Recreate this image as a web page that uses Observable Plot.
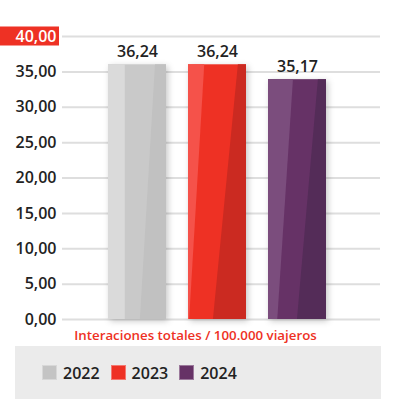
<!DOCTYPE html>
<html>
<head>
<meta charset="utf-8">
<script src="https://cdn.jsdelivr.net/npm/d3@7"></script>
<script src="https://cdn.jsdelivr.net/npm/@observablehq/plot@0.6"></script>
<style>
  body { margin: 0; background: #fff; font-family: "Open Sans", sans-serif; }
  #chart svg g[aria-label="rect"] { filter: drop-shadow(2px 2px 3px rgba(0,0,0,0.22)); }
  .legend { margin-left: 15px; width: 366px; height: 53px; background: #ebebeb; display: flex; align-items: center; padding-left: 27px; box-sizing: border-box; }
  .legend .item { display: flex; align-items: center; margin-right: 11px; }
  .legend .sw { width: 15px; height: 15px; box-sizing: border-box; border: 1px solid rgba(255,255,255,0.35); }
  .legend .lab { margin-left: 6px; font-size: 16px; font-weight: 600; color: #222; }
</style>
</head>
<body>
<div id="chart"></div>
<div class="legend" id="legend"></div>
<script>
// ---- data ----
const years = ["2022", "2023", "2024"];
const valueLabels = [36.24, 36.24, 35.17];      // values printed above the bars
const barHeights = [36.0, 36.0, 33.9];          // bar heights as drawn in the picture
const yTicks = [0, 5, 10, 15, 20, 25, 30, 35, 40];
const xLabel = "Interaciones totales / 100.000 viajeros";

// ---- style ----
const shades = [
  {light: "#dadada", mid: "#c9c9c9", dark: "#c1c1c1", swatch: "#c4c4c4"},
  {light: "#f5524a", mid: "#ee3124", dark: "#cb2a21", swatch: "#ee3124"},
  {light: "#7b4d7d", mid: "#663266", dark: "#542c58", swatch: "#663266"}
];
// fractions of bar width: light strip edge (top, bottom), dark strip edge (top, bottom)
const facets = [
  {lt: 0.29, lb: 0.29, dt: 0.81, db: 0.55},
  {lt: 0.28, lb: 0.02, dt: 0.86, db: 0.43},
  {lt: 0.43, lb: 0.16, dt: 0.86, db: 0.50}
];
const hw = 0.3625;
const fmt = v => v.toFixed(2).replace(".", ",");

const data = years.map((year, i) => ({year, i, h: barHeights[i], label: valueLabels[i]}));
const lightPts = data.flatMap(d => {
  const l = d.i - hw, w = 2 * hw, f = facets[d.i];
  return [
    {year: d.year, i: d.i, y: 0, x1: l, x2: l + w * f.lb},
    {year: d.year, i: d.i, y: d.h, x1: l, x2: l + w * f.lt}
  ];
});
const darkPts = data.flatMap(d => {
  const l = d.i - hw, w = 2 * hw, f = facets[d.i];
  return [
    {year: d.year, i: d.i, y: 0, x1: l + w * f.db, x2: d.i + hw},
    {year: d.year, i: d.i, y: d.h, x1: l + w * f.dt, x2: d.i + hw}
  ];
});

const chart = Plot.plot({
  width: 399,
  height: 346,
  marginLeft: 62,
  marginRight: 19,
  marginTop: 36,
  marginBottom: 27,
  style: {fontFamily: "'Open Sans', sans-serif", background: "transparent"},
  x: {type: "linear", domain: [-0.9375, 3.0375], axis: null},
  y: {domain: [0, 40], axis: null},
  marks: [
    Plot.gridY(yTicks, {stroke: "#dedede", strokeOpacity: 1, strokeWidth: 2}),
    Plot.axisY(yTicks, {tickSize: 0, tickPadding: 6, tickFormat: fmt, fontSize: 16, fontWeight: 600, fill: "#222", label: null}),
    Plot.rectY(data, {x1: d => d.i - hw, x2: d => d.i + hw, y1: 0, y2: "h", fill: d => shades[d.i].mid}),
    Plot.areaX(lightPts, {y: "y", x1: "x1", x2: "x2", z: "year", fill: d => shades[d.i].light}),
    Plot.areaX(darkPts, {y: "y", x1: "x1", x2: "x2", z: "year", fill: d => shades[d.i].dark}),
    Plot.text(data, {x: "i", y: "h", text: d => fmt(d.label), dy: -8, lineAnchor: "bottom", fontSize: 16, fontWeight: 600, fill: "#222"}),
    Plot.text([xLabel], {text: d => d, frameAnchor: "bottom", dx: -26, dy: 11, lineAnchor: "top", fontSize: 13.3, fontWeight: 600, fill: "#ee3124"})
  ]
});

// red highlight box behind the top tick label
const y40 = chart.scale("y").apply(40);
const svg = d3.select(chart);
svg.insert("rect", "g")
  .attr("x", 0).attr("y", y40 - 9.5).attr("width", 59).attr("height", 19)
  .attr("fill", "#ee3124");
svg.selectAll("text").filter(function() { return this.textContent === fmt(40); }).attr("fill", "#fff");

document.getElementById("chart").append(chart);

// legend
const legend = d3.select("#legend");
years.forEach((y, i) => {
  const it = legend.append("div").attr("class", "item");
  it.append("div").attr("class", "sw").style("background", shades[i].swatch);
  it.append("span").attr("class", "lab").text(y);
});
</script>
</body>
</html>
